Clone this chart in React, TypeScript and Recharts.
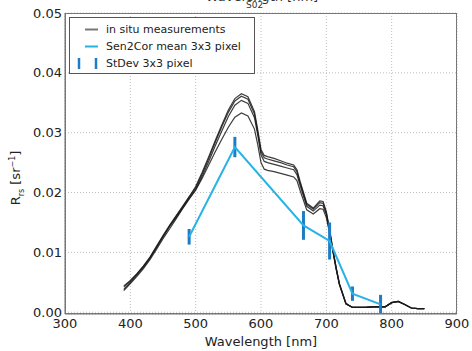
import React from 'react';
import { LineChart, Line, XAxis, YAxis, CartesianGrid, ErrorBar } from 'recharts';

const wavelengths = [390, 400, 410, 420, 430, 440, 450, 460, 470, 480, 490, 500, 510, 520, 530, 540, 550, 560, 570, 580, 590, 595, 600, 605, 610, 620, 630, 640, 650, 655, 660, 670, 680, 690, 695, 700, 705, 710, 715, 720, 730, 740, 750, 760, 770, 780, 790, 800, 810, 820, 830, 840, 850];

const insitu1 = [0.0042, 0.0052, 0.0064, 0.0077, 0.0092, 0.0110, 0.0128, 0.0145, 0.0161, 0.0177, 0.0193, 0.0210, 0.0234, 0.0260, 0.0287, 0.0313, 0.0338, 0.0357, 0.0365, 0.0360, 0.0335, 0.0305, 0.0272, 0.0262, 0.0260, 0.0257, 0.0253, 0.0249, 0.0246, 0.0238, 0.0218, 0.0182, 0.0174, 0.0186, 0.0185, 0.0168, 0.0138, 0.0105, 0.0075, 0.0048, 0.0015, 0.0008, 0.0008, 0.0008, 0.0009, 0.0009, 0.0009, 0.0016, 0.0018, 0.0013, 0.0007, 0.0006, 0.0006];
const insitu2 = [0.0044, 0.0053, 0.0064, 0.0077, 0.0091, 0.0109, 0.0127, 0.0144, 0.0160, 0.0176, 0.0192, 0.0208, 0.0231, 0.0257, 0.0284, 0.0310, 0.0334, 0.0353, 0.0361, 0.0356, 0.0331, 0.0301, 0.0268, 0.0258, 0.0256, 0.0253, 0.0250, 0.0246, 0.0243, 0.0235, 0.0215, 0.0180, 0.0172, 0.0183, 0.0182, 0.0166, 0.0137, 0.0104, 0.0074, 0.0047, 0.0014, 0.0008, 0.0008, 0.0008, 0.0009, 0.0009, 0.0009, 0.0016, 0.0018, 0.0013, 0.0007, 0.0006, 0.0006];
const insitu3 = [0.0038, 0.0050, 0.0062, 0.0075, 0.0090, 0.0108, 0.0126, 0.0143, 0.0158, 0.0174, 0.0190, 0.0205, 0.0227, 0.0252, 0.0278, 0.0303, 0.0327, 0.0346, 0.0354, 0.0349, 0.0325, 0.0296, 0.0263, 0.0252, 0.0250, 0.0247, 0.0244, 0.0241, 0.0238, 0.0230, 0.0211, 0.0177, 0.0169, 0.0179, 0.0178, 0.0163, 0.0135, 0.0103, 0.0073, 0.0047, 0.0014, 0.0008, 0.0008, 0.0008, 0.0009, 0.0009, 0.0009, 0.0016, 0.0018, 0.0013, 0.0007, 0.0006, 0.0006];
const insitu4 = [0.0036, 0.0048, 0.0060, 0.0073, 0.0088, 0.0105, 0.0123, 0.0139, 0.0156, 0.0173, 0.0189, 0.0204, 0.0224, 0.0246, 0.0268, 0.0289, 0.0309, 0.0326, 0.0333, 0.0328, 0.0306, 0.0280, 0.0250, 0.0239, 0.0237, 0.0235, 0.0232, 0.0229, 0.0226, 0.0220, 0.0203, 0.0171, 0.0164, 0.0173, 0.0172, 0.0158, 0.0132, 0.0101, 0.0072, 0.0046, 0.0014, 0.0008, 0.0008, 0.0008, 0.0009, 0.0009, 0.0009, 0.0016, 0.0018, 0.0013, 0.0007, 0.0006, 0.0006];

const s2Bands = [490, 560, 665, 705, 740, 783];
const s2Mean = [0.0126, 0.0276, 0.0145, 0.0119, 0.0031, 0.0013];
const s2Std = [0.0013, 0.0017, 0.0024, 0.0031, 0.0012, 0.0016];

const xTicks = [300, 400, 500, 600, 700, 800, 900];
const yTicks = [0, 0.01, 0.02, 0.03, 0.04, 0.05];

const insituData = wavelengths.map((wl, i) => ({
  wl,
  s1: insitu1[i],
  s2: insitu2[i],
  s3: insitu3[i],
  s4: insitu4[i],
}));

const sen2corData = s2Bands.map((wl, i) => ({ wl, mean: s2Mean[i], std: s2Std[i] }));

const FONT = '"DejaVu Sans", Verdana, sans-serif';
const LINE_COL = '#1a1a1a';
const CYAN = '#27b3e6';
const BLUE = '#1f7cc4';

export default function App() {
  return (
    <div
      style={{
        position: 'absolute',
        left: 0,
        top: 0,
        width: 472,
        height: 351,
        background: '#fff',
        fontFamily: FONT,
        overflow: 'hidden',
      }}
    >
      <div style={{ position: 'absolute', left: 0, width: 524, top: -11, textAlign: 'center', fontSize: 13, color: '#333' }}>
        Wavelength [nm]
      </div>
      <LineChart
        width={472}
        height={351}
        data={insituData}
        margin={{ top: 13, right: 15, left: 0, bottom: 7 }}
      >
        <CartesianGrid stroke="#bdbdbd" strokeDasharray="1 2" />
        <XAxis
          dataKey="wl"
          type="number"
          domain={[300, 900]}
          ticks={xTicks}
          allowDataOverflow
          height={30}
          tickSize={0}
          tickMargin={5}
          tickLine={false}
          axisLine={{ stroke: '#777' }}
          tick={{ fontSize: 13, fill: '#222', fontFamily: FONT }}
          interval={0}
        />
        <YAxis
          type="number"
          domain={[0, 0.05]}
          ticks={yTicks}
          width={65}
          tickSize={0}
          tickMargin={3}
          tickLine={false}
          axisLine={{ stroke: '#777' }}
          tick={{ fontSize: 13, fill: '#222', fontFamily: FONT }}
          tickFormatter={(v: number) => v.toFixed(2)}
          interval={0}
        />
        <Line dataKey="s4" stroke={LINE_COL} strokeWidth={1.2} dot={false} isAnimationActive={false} strokeOpacity={0.85} />
        <Line dataKey="s3" stroke={LINE_COL} strokeWidth={1.2} dot={false} isAnimationActive={false} strokeOpacity={0.85} />
        <Line dataKey="s2" stroke={LINE_COL} strokeWidth={1.2} dot={false} isAnimationActive={false} strokeOpacity={0.85} />
        <Line dataKey="s1" stroke={LINE_COL} strokeWidth={1.2} dot={false} isAnimationActive={false} strokeOpacity={0.85} />
        <Line
          data={sen2corData}
          dataKey="mean"
          stroke={CYAN}
          strokeWidth={2}
          dot={false}
          isAnimationActive={false}
        >
          <ErrorBar dataKey="std" width={0} strokeWidth={3} stroke={BLUE} direction="y" isAnimationActive={false} />
        </Line>
      </LineChart>
      {/* top fragment label, sits above the frame like in the reference */}
      <div style={{ position: 'absolute', left: 246, top: 0, fontSize: 9, lineHeight: '10px', color: '#333' }}>
        S02
      </div>
      {/* plot frame */}
      <div
        style={{
          position: 'absolute',
          left: 65,
          top: 13,
          width: 392,
          height: 301,
          border: '1px solid #777',
          boxSizing: 'border-box',
          pointerEvents: 'none',
        }}
      />
      {/* legend */}
      <div
        style={{
          position: 'absolute',
          left: 69,
          top: 17,
          width: 186,
          height: 57,
          border: '1px solid #555',
          boxSizing: 'border-box',
          background: '#fff',
          fontSize: 11,
          color: '#222',
        }}
      >
        {[
          { label: 'in situ measurements', kind: 'line', color: '#777' },
          { label: 'Sen2Cor mean 3x3 pixel', kind: 'line', color: CYAN },
          { label: 'StDev 3x3 pixel', kind: 'err', color: BLUE },
        ].map((it, i) => (
          <div key={i} style={{ position: 'absolute', left: 0, top: 3 + i * 17, height: 17, width: '100%' }}>
            <svg width={34} height={17} style={{ position: 'absolute', left: 4, top: 0 }}>
              {it.kind === 'line' ? (
                <line x1={11} x2={24} y1={8.5} y2={8.5} stroke={it.color} strokeWidth={2} />
              ) : (
                <g>
                  <line x1={5} x2={5} y1={3} y2={14} stroke={it.color} strokeWidth={2.5} />
                  <line x1={22} x2={22} y1={3} y2={14} stroke={it.color} strokeWidth={2.5} />
                </g>
              )}
            </svg>
            <div style={{ position: 'absolute', left: 36, top: 1, lineHeight: '15px', whiteSpace: 'nowrap' }}>{it.label}</div>
          </div>
        ))}
      </div>
      {/* axis labels */}
      <div style={{ position: 'absolute', left: 65, width: 392, top: 334, lineHeight: '15px', textAlign: 'center', fontSize: 13, color: '#222' }}>
        Wavelength [nm]
      </div>
      <div
        style={{
          position: 'absolute',
          left: 17,
          top: 178,
          width: 0,
          height: 0,
        }}
      >
        <div
          style={{
            position: 'absolute',
            transform: 'translate(-50%, -50%) rotate(-90deg)',
            whiteSpace: 'nowrap',
            fontSize: 13,
            color: '#222',
          }}
        >
          R<sub style={{ fontSize: 8 }}>rs</sub> [sr<sup style={{ fontSize: 8 }}>−1</sup>]
        </div>
      </div>
    </div>
  );
}
